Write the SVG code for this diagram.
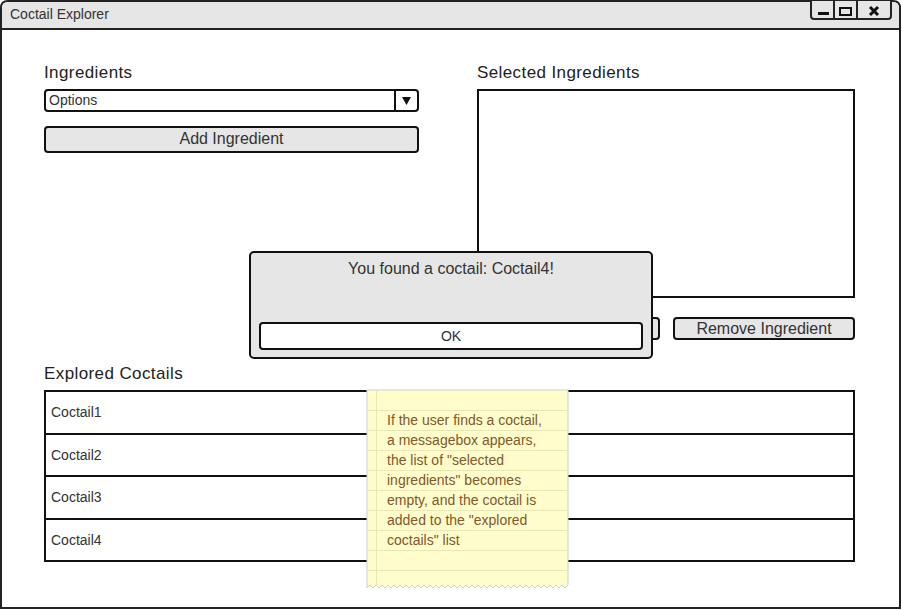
<svg xmlns="http://www.w3.org/2000/svg" width="902" height="610" viewBox="0 0 902 610">
<style>
text{font-family:"Liberation Sans",Arial,sans-serif;}
.lbl{font-size:17px;fill:#222;letter-spacing:0.4px;}
.btxt{font-size:16px;fill:#333;}
.sm{font-size:14px;fill:#333;}
.box{fill:#fff;stroke:#111;stroke-width:2;}
.btn{fill:#e6e6e6;stroke:#111;stroke-width:2;}
.note{font-size:14px;fill:#83582a;}
.rule{stroke:#ebe7b5;stroke-width:1;}
</style>
<rect width="902" height="610" fill="#fff"/>
<g id="window">
<path d="M1,608 V8 Q1,1 8,1 H893 Q900,1 900,8 V608 Z" fill="#fff" stroke="#222" stroke-width="2"/>
<path d="M2,29 V8 Q2,2 8,2 H893 Q899,2 899,8 V29 Z" fill="#e6e6e6"/>
<line x1="1" y1="29" x2="900" y2="29" stroke="#222" stroke-width="2"/>
<text x="10" y="19" class="sm">Coctail Explorer</text>
<path d="M811,1 V16 Q811,19 814,19 H888 Q891,19 891,16 V1" fill="#e6e6e6" stroke="#222" stroke-width="2"/>
<line x1="834" y1="1" x2="834" y2="19" stroke="#222" stroke-width="2"/>
<line x1="857" y1="1" x2="857" y2="19" stroke="#222" stroke-width="2"/>
<line x1="818" y1="13.5" x2="829" y2="13.5" stroke="#111" stroke-width="3"/>
<rect x="840" y="8" width="11" height="7" fill="none" stroke="#111" stroke-width="2"/>
<path d="M870,7 L878,15 M878,7 L870,15" stroke="#111" stroke-width="3"/>
</g>
<g id="ingredients">
<text x="44" y="78" class="lbl">Ingredients</text>
</g>
<g id="dropdown">
<rect x="45" y="90" width="373" height="21" rx="3" class="box"/>
<line x1="395" y1="90" x2="395" y2="111" stroke="#111" stroke-width="2"/>
<polygon points="402,97 411,97 406.5,105" fill="#111"/>
<text x="49" y="105" class="sm">Options</text>
</g>
<g id="add-ingredient">
<rect x="45" y="127" width="373" height="25" rx="3" class="btn"/>
<text x="231.5" y="144" class="btxt" text-anchor="middle">Add Ingredient</text>
</g>
<g id="selected-ingredients">
<text x="477" y="78" class="lbl">Selected Ingredients</text>
<rect x="478" y="90" width="376" height="207" class="box"/>
</g>
<g id="hidden-button">
<rect x="478" y="318" width="181" height="21" rx="3" class="btn"/>
</g>
<g id="remove-ingredient">
<rect x="674" y="318" width="180" height="21" rx="3" class="btn"/>
<text x="764" y="334" class="btxt" text-anchor="middle">Remove Ingredient</text>
</g>
<g id="dialog">
<rect x="250" y="252" width="402" height="106" rx="4" fill="#e6e6e6" stroke="#111" stroke-width="2"/>
<text x="451" y="274" class="btxt" text-anchor="middle">You found a coctail: Coctail4!</text>
<rect x="260" y="323" width="382" height="26" rx="3" class="box"/>
<text x="451" y="341" class="sm" text-anchor="middle">OK</text>
</g>
<g id="explored-coctails">
<text x="44" y="379" class="lbl">Explored Coctails</text>
<rect x="45" y="391" width="809" height="170" class="box"/>
<line x1="45" y1="434" x2="854" y2="434" stroke="#111" stroke-width="2"/>
<line x1="45" y1="476" x2="854" y2="476" stroke="#111" stroke-width="2"/>
<line x1="45" y1="519" x2="854" y2="519" stroke="#111" stroke-width="2"/>
<text x="51" y="417" class="sm">Coctail1</text>
<text x="51" y="460" class="sm">Coctail2</text>
<text x="51" y="502" class="sm">Coctail3</text>
<text x="51" y="545" class="sm">Coctail4</text>
</g>
<g id="sticky-note">
<polygon points="367,390 568,390 568,585 565,588 562,585 559,588 556,585 553,588 550,585 547,588 544,585 541,588 538,585 535,588 532,585 529,588 526,585 523,588 520,585 517,588 514,585 511,588 508,585 505,588 502,585 499,588 496,585 493,588 490,585 487,588 484,585 481,588 478,585 475,588 472,585 469,588 466,585 463,588 460,585 457,588 454,585 451,588 448,585 445,588 442,585 439,588 436,585 433,588 430,585 427,588 424,585 421,588 418,585 415,588 412,585 409,588 406,585 403,588 400,585 397,588 394,585 391,588 388,585 385,588 382,585 379,588 376,585 373,588 370,585 367,588" fill="#fefdcb" stroke="#cfcfcf" stroke-width="1"/>
<g class="rule">
<line x1="368" y1="410.5" x2="567" y2="410.5"/>
<line x1="368" y1="430.5" x2="567" y2="430.5"/>
<line x1="368" y1="450.5" x2="567" y2="450.5"/>
<line x1="368" y1="470.5" x2="567" y2="470.5"/>
<line x1="368" y1="490.5" x2="567" y2="490.5"/>
<line x1="368" y1="510.5" x2="567" y2="510.5"/>
<line x1="368" y1="530.5" x2="567" y2="530.5"/>
<line x1="368" y1="550.5" x2="567" y2="550.5"/>
<line x1="368" y1="570.5" x2="567" y2="570.5"/>
<line x1="376.5" y1="391" x2="376.5" y2="586"/>
</g>
<text class="note" x="387" y="425">If the user finds a coctail,</text>
<text class="note" x="387" y="445">a messagebox appears,</text>
<text class="note" x="387" y="465">the list of "selected</text>
<text class="note" x="387" y="485">ingredients" becomes</text>
<text class="note" x="387" y="505">empty, and the coctail is</text>
<text class="note" x="387" y="525">added to the "explored</text>
<text class="note" x="387" y="545">coctails" list</text>
</g>
</svg>
